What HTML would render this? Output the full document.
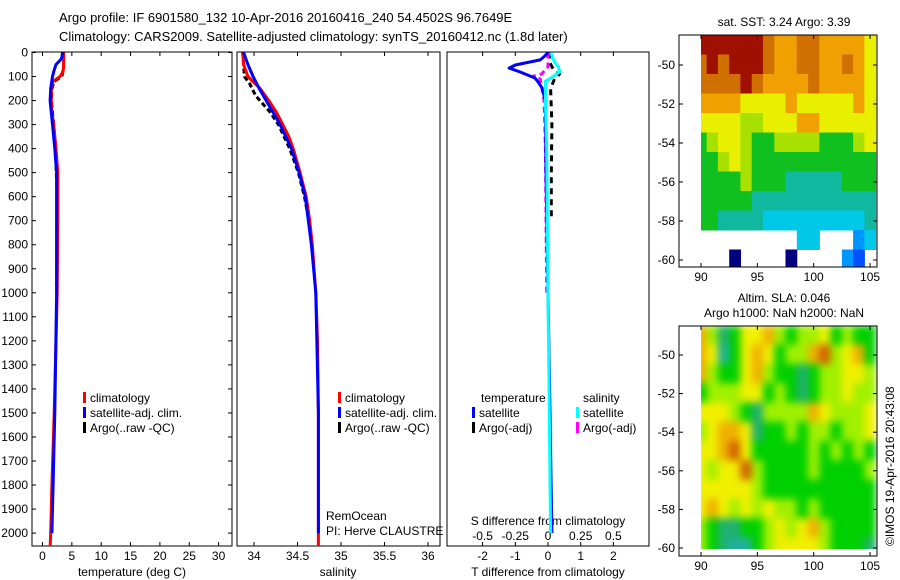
<!DOCTYPE html>
<html><head><meta charset="utf-8">
<style>
html,body{margin:0;padding:0;background:#fff;}
svg{display:block;font-family:"Liberation Sans",sans-serif;font-size:12px;}
</style></head>
<body>
<svg id="fig" width="900" height="580" viewBox="0 0 900 580">
<defs>
<clipPath id="c1"><rect x="32" y="52" width="200" height="494"/></clipPath>
<clipPath id="c2"><rect x="237" y="52" width="203" height="494"/></clipPath>
<clipPath id="c3"><rect x="447" y="52" width="202" height="494"/></clipPath>
<clipPath id="cm1"><rect x="701" y="35" width="176" height="232"/></clipPath>
<clipPath id="cm2"><rect x="701" y="326" width="176" height="223"/></clipPath>
<filter id="blur" filterUnits="userSpaceOnUse" x="680" y="300" width="220" height="270"><feGaussianBlur stdDeviation="4"/></filter>
</defs>
<text x="59" y="22" font-size="13">Argo profile: IF 6901580_132 10-Apr-2016 20160416_240 54.4502S 96.7649E</text>
<text x="59" y="41" font-size="13">Climatology: CARS2009. Satellite-adjusted climatology: synTS_20160412.nc (1.8d later)</text>
<g id="g"></g>
</svg>
<script>
// ---------- profile data ----------
const tDepth   = [0,20,40,60,80,100,120,150,200,250,300,400,500,700,1000,1500,1800,2000,2060];
const tClim    = [3.6,3.6,3.6,3.6,3.5,3.0,1.8,1.5,1.5,1.6,1.9,2.3,2.6,2.6,2.5,2.0,1.6,1.4,1.3];
const tSatDepth= [0,20,30,50,80,100,150,200,300,400,500,1000,1500,1800,2000];
const tSat     = [3.4,3.3,3.1,2.3,1.9,1.7,1.4,1.3,1.7,2.1,2.4,2.4,2.1,1.8,1.6];
const tArgoDepth=[0,60,100,120,150,200,300,400,600,1000];
const tArgo    = [3.6,3.6,3.3,2.0,1.6,1.5,1.9,2.2,2.5,2.4];
const sDepth   = [0,50,100,150,200,250,300,350,400,500,600,700,800,1000,1200,1500,2000,2060];
const sClim    = [33.87,33.88,33.93,34.07,34.17,34.26,34.33,34.40,34.45,34.53,34.60,34.64,34.67,34.71,34.73,34.74,34.74,34.74];
const sSatDepth= [0,50,100,150,200,300,400,500,600,800,1000,1500,2000];
const sSat     = [33.88,33.93,33.99,34.06,34.14,34.30,34.43,34.52,34.59,34.66,34.71,34.74,34.74];
const sArgoDepth=[0,100,130,180,250,300,400,500,600,700];
const sArgo    = [33.87,33.89,33.95,34.02,34.19,34.28,34.41,34.51,34.58,34.63];
const dtSatDepth=[0,15,31,52,65,81,106,123,148,200,500,1000,1500,2000];
const dtSat    = [0,-0.1,-0.24,-1.0,-1.19,-0.85,-0.4,-0.3,-0.18,-0.08,-0.06,0.0,0.06,0.12];
const dtArgoDepth=[0,40,80,90,100,110,150,300,500,700];
const dtArgo   = [0.05,0.05,0.2,0.35,0.3,0.2,0.08,0.12,0.1,0.1];
const dsSatDepth=[0,40,60,80,100,120,200,400,1000,2000];
const dsSat    = [0.02,0.05,0.08,0.09,0.04,-0.02,-0.02,-0.01,0.0,0.02];
const dsArgoDepth=[0,60,90,100,110,200,400,1000];
const dsArgo   = [0.0,0.0,-0.05,-0.12,-0.06,-0.03,-0.02,-0.01];
// tick labels
const depthTicks = [0,100,200,300,400,500,600,700,800,900,1000,1100,1200,1300,1400,1500,1600,1700,1800,1900,2000];
const tempTicks = [0,5,10,15,20,25,30];
const salTicks = ["34","34.5","35","35.5","36"];
const dtTicks = [-2,-1,0,1,2];
const dsTicks = ["-0.5","-0.25","0","0.25","0.5"];
const latTicks = [-50,-52,-54,-56,-58,-60];
const lonTicks = [90,95,100,105];
// map grids (rows from -48.5 south, cols lon 90..105), -1 = no data
const sstGrid = [
[10,10,10,10,10,10,9,8,8,9,9,8,8,8,8,7],
[9,10,9,10,10,10,9,8,8,9,9,8,8,9,8,7],
[9,9,9,9,10,9,8,8,8,8,9,8,8,8,8,7],
[8,8,8,8,7,7,7,7,8,7,7,7,7,7,8,7],
[7,7,7,7,6,6,7,7,7,8,8,7,7,7,7,7],
[5,6,7,7,6,5,5,6,6,6,6,5,5,5,6,7],
[5,5,6,7,6,5,5,5,5,5,5,5,5,5,5,5],
[5,5,5,5,6,5,5,5,4,4,4,4,4,5,5,5],
[5,5,5,5,5,4,4,4,4,4,4,4,4,4,4,4],
[5,5,4,4,4,4,3,3,3,3,3,3,3,3,3,4],
[-1,-1,-1,-1,-1,-1,-1,-1,-1,3,3,-1,-1,-1,2,3],
[-1,-1,-1,0,-1,-1,-1,-1,0,-1,-1,-1,-1,2,1,-1]];
const slaGrid = [
[8,6,4,5,7,7,8,6,5,6,6,7,5,6,5,5],
[8,7,3,5,7,8,7,5,6,6,8,9,6,7,8,5],
[8,6,5,5,7,8,6,5,5,4,5,6,6,7,7,6],
[5,6,6,6,7,7,5,6,5,4,5,6,6,7,6,6],
[7,7,7,6,5,4,6,6,6,6,8,7,6,6,6,7],
[6,7,8,8,7,4,5,5,6,5,6,6,5,6,6,7],
[7,7,8,9,7,5,5,5,5,5,6,5,6,5,6,5],
[7,6,7,7,9,6,5,5,5,5,6,5,5,5,5,6],
[7,7,7,7,7,6,5,5,5,5,5,5,5,5,5,5],
[7,8,7,6,7,6,7,6,6,5,6,5,5,5,5,5],
[6,5,4,4,5,5,6,7,6,7,8,6,5,5,5,5],
[6,5,4,3,3,5,6,7,7,7,7,6,5,5,5,4]];

const sstPal = ['#00007f','#0050ff','#0096ff','#00c8e6','#10b8a0','#10c020','#a8e000','#e8f000','#f0a000','#d07000','#a01000'];
const slaPal = ['#004080','#0090c0','#00c0c0','#20b0a0','#20b070','#00d000','#a0f000','#f0f000','#f0b000','#d06000','#a03000'];

const NS='http://www.w3.org/2000/svg';
const G=document.getElementById('g');
function mk(tag,attrs,parent){const e=document.createElementNS(NS,tag);for(const k in attrs)e.setAttribute(k,attrs[k]);(parent||G).appendChild(e);return e;}

// axis functions
const yD = d => 52.5 + d*0.2403;
const xT = v => 42.5 + v*5.87;
const xS = v => 254 + (v-34)*87;
const xDT = v => 548 + v*32.7;
const xDS = v => 548 + v*130.8;
const xLon1 = v => 701 + (v-90)*11.27;
const yLat1 = v => 65 + (-50 - v)*19.5;
const yLat2 = v => 355 + (-50 - v)*19.3;

// panels
const panels=[[32,232,'temperature-panel'],[237,440,'salinity-panel'],[447,649,'difference-panel']];
panels.forEach(p=>{
  const r=mk('rect',{x:p[0],y:52,width:p[1]-p[0],height:494,fill:'none',stroke:'#000','stroke-width':1});
  
  
});
// depth ticks
depthTicks.forEach(d=>{
  const y=yD(d);
  mk('line',{x1:32,x2:36,y1:y,y2:y,stroke:'#000'});
  mk('line',{x1:228,x2:232,y1:y,y2:y,stroke:'#000'});
  const t=mk('text',{x:28,y:y+4,'text-anchor':'end'});t.textContent=d;
  
  
});
function xticks(vals,fx,labels,ly,x0,x1,innerTop){
  vals.forEach((v,i)=>{
    const x=fx(v);
    mk('line',{x1:x,x2:x,y1:546,y2:542,stroke:'#000'});
    if(innerTop) mk('line',{x1:x,x2:x,y1:52,y2:56,stroke:'#000'});
    const t=mk('text',{x:x,y:ly,'text-anchor':'middle'});t.textContent=labels[i];
    
    
  });
}
xticks(tempTicks,xT,tempTicks,560,32,232,true);
xticks(salTicks.map(Number),xS,salTicks,560,237,440,true);
xticks(dtTicks,xDT,dtTicks,560,447,649,true);
dsTicks.forEach(v=>{const t=mk('text',{x:xDS(Number(v)),y:540,'text-anchor':'middle'});t.textContent=v;
  
  });
[['temperature (deg C)',132,'temperature-axis-title'],['salinity',338,'salinity-axis-title'],['T difference from climatology',548,'t-diff-axis-title']].forEach(a=>{
  const t=mk('text',{x:a[1],y:576,'text-anchor':'middle'});t.textContent=a[0];
  
  
});
{const t=mk('text',{x:548,y:525,'text-anchor':'middle'});t.textContent='S difference from climatology';

}

function series(depths,vals,fx,color,w,dash,clip,name){
  const pts=depths.map((d,i)=>fx(vals[i]).toFixed(1)+','+yD(d).toFixed(1)).join(' ');
  const a={points:pts,fill:'none',stroke:color,'stroke-width':w,'clip-path':'url(#'+clip+')','stroke-linejoin':'round'};
  if(dash)a['stroke-dasharray']=dash;
  const e=mk('polyline',a);
  
  
}
series(tArgoDepth,tArgo,xT,'#000',3,'6,3','c1','temp-argo-line');
series(tDepth,tClim,xT,'#f00',3,null,'c1','temp-climatology-line');
series(tSatDepth,tSat,xT,'#00f',3,null,'c1','temp-satellite-line');
series(sArgoDepth,sArgo,xS,'#000',3,'5,3','c2','sal-argo-line');
series(sDepth,sClim,xS,'#f00',3,null,'c2','sal-climatology-line');
series(sSatDepth,sSat,xS,'#00f',3,null,'c2','sal-satellite-line');
series(dtArgoDepth,dtArgo,xDT,'#000',3,'6,5','c3','tdiff-argo-line');
series(dsArgoDepth,dsArgo,xDS,'#f0f',3,'6,4','c3','sdiff-argo-line');
series(dtSatDepth,dtSat,xDT,'#00f',3,null,'c3','tdiff-satellite-line');
series(dsSatDepth,dsSat,xDS,'#0ff',3,null,'c3','sdiff-satellite-line');

// legends
function legend(x,y,color,label,name){
  mk('rect',{x:x,y:y-6,width:3,height:11,fill:color});
  const t=mk('text',{x:x+7,y:y+4});t.textContent=label;
  
  
}
legend(83,398,'#f00','climatology','legend-climatology');
legend(83,413,'#00f','satellite-adj. clim.','legend-satellite');
legend(83,428,'#000','Argo(..raw -QC)','legend-argo');
legend(338,398,'#f00','climatology','legend-sal-climatology');
legend(338,413,'#00f','satellite-adj. clim.','legend-sal-satellite');
legend(338,428,'#000','Argo(..raw -QC)','legend-sal-argo');
{const t=mk('text',{x:481,y:402});t.textContent='temperature';

}
{const t=mk('text',{x:583,y:402});t.textContent='salinity';

}
legend(472,413,'#00f','satellite','legend-t-satellite');
legend(472,428,'#000','Argo(-adj)','legend-t-argo');
legend(576,413,'#0ff','satellite','legend-s-satellite');
legend(576,428,'#f0f','Argo(-adj)','legend-s-argo');
{const t=mk('text',{x:326,y:520});t.textContent='RemOcean';

}
{const t=mk('text',{x:326,y:535});t.textContent='PI: Herve CLAUSTRE';

}

// maps
function drawMap(grid,pal,yLat,top,bottom,clip,name,blur){
  const g=mk('g',{'clip-path':'url(#'+clip+')'});
  const inner=mk('g',blur?{filter:'url(#blur)',style:'filter:blur(4px)'}:{},g);
  
  
  grid.forEach((row,r)=>row.forEach((v,c)=>{
    if(v<0)return;
    const x0=xLon1(90+c-0.5), x1=xLon1(90+c+0.5);
    const y0=yLat(-48.46-r), y1=yLat(-49.46-r);
    const xa=blur?x0:Math.max(x0,701);
    const e=mk('rect',{x:xa.toFixed(1),y:y0.toFixed(1),width:(x1-xa+0.5).toFixed(1),height:(y1-y0+0.5).toFixed(1),fill:pal[v]},inner);
    
    
  }));
  const f=mk('rect',{x:679,y:top,width:198,height:bottom-top,fill:'none',stroke:'#000'});
  
  
  latTicks.forEach(l=>{const y=yLat(l);
    mk('line',{x1:679,x2:683,y1:y,y2:y,stroke:'#000'});
    mk('line',{x1:873,x2:877,y1:y,y2:y,stroke:'#000'});
    const t=mk('text',{x:675,y:y+4,'text-anchor':'end'});t.textContent=l;
    
    });
  lonTicks.forEach(l=>{const x=xLon1(l);
    mk('line',{x1:x,x2:x,y1:bottom,y2:bottom-4,stroke:'#000'});
    mk('line',{x1:x,x2:x,y1:top,y2:top+4,stroke:'#000'});
    const t=mk('text',{x:x,y:bottom+14,'text-anchor':'middle'});t.textContent=l;
    
    });
}
drawMap(sstGrid,sstPal,yLat1,35,267,'cm1','sst-map',false);
drawMap(slaGrid,slaPal,yLat2,326,556,'cm2','sla-map',true);
{const t=mk('text',{x:784,y:26,'text-anchor':'middle'});t.textContent='sat. SST: 3.24 Argo: 3.39';

}
{const t=mk('text',{x:784,y:302,'text-anchor':'middle'});t.textContent='Altim. SLA: 0.046';

}
{const t=mk('text',{x:784,y:317,'text-anchor':'middle'});t.textContent='Argo h1000: NaN h2000: NaN';

}
{const t=mk('text',{x:894,y:546,transform:'rotate(-90 894 546)'});t.textContent='©IMOS 19-Apr-2016 20:43:08';

}
</script>
</body></html>
